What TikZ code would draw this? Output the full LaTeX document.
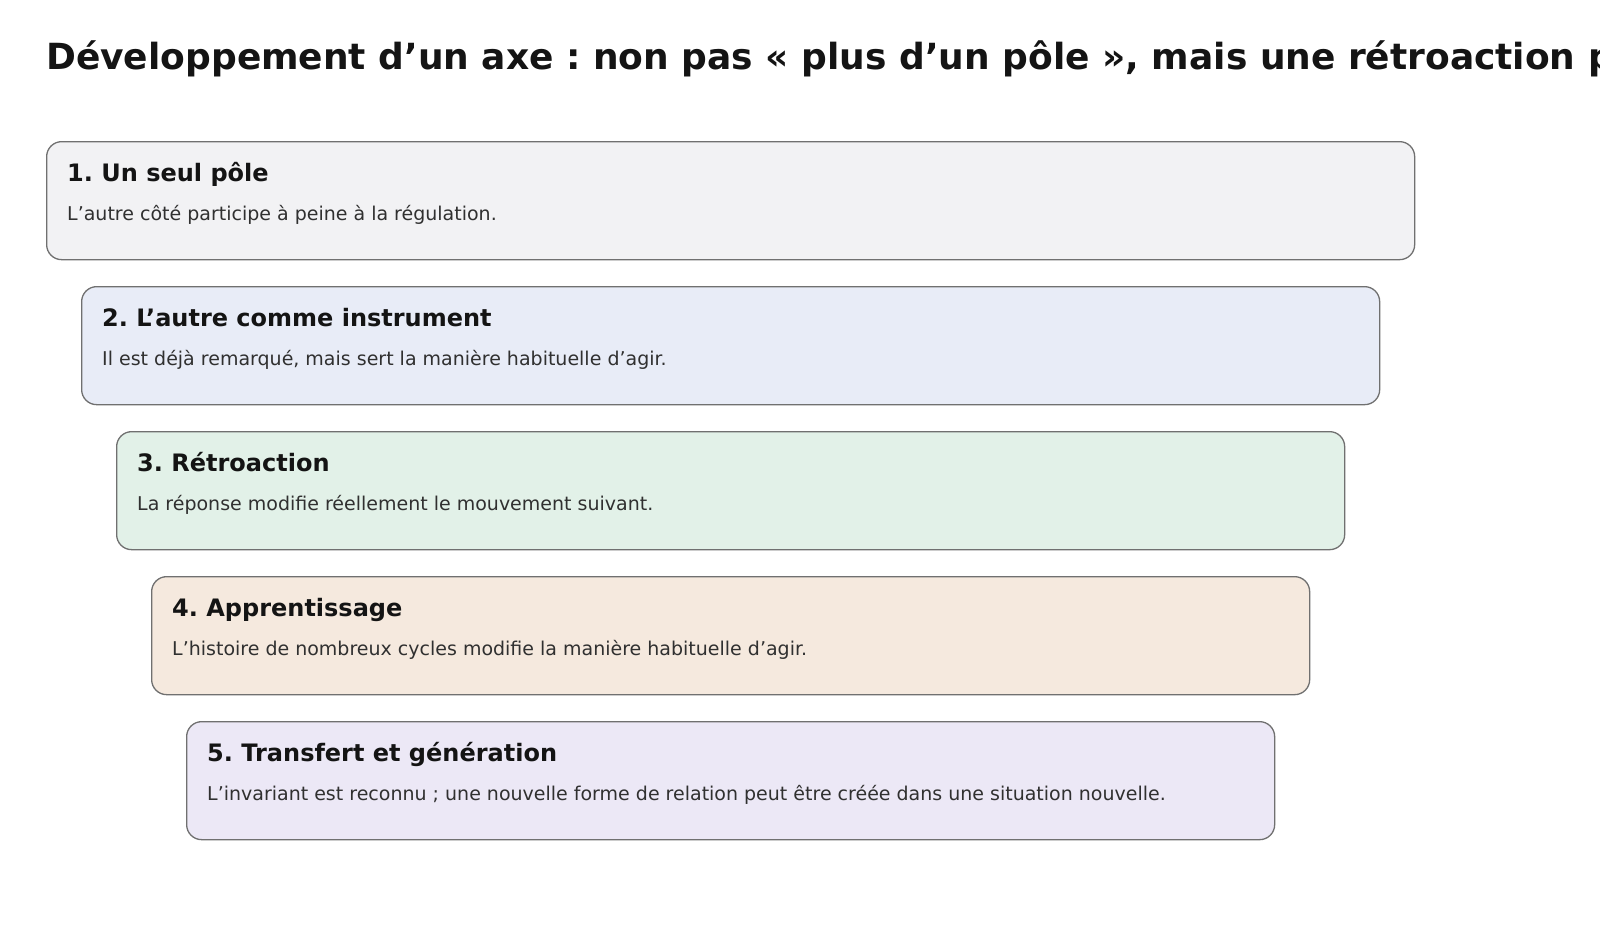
\documentclass[tikz,border=0pt]{standalone}
\usepackage{fontspec}
\setmainfont{DejaVu Sans}
\frenchspacing
\definecolor{ink}{HTML}{141414}
\definecolor{descink}{HTML}{303030}
\definecolor{edge}{HTML}{707070}
\definecolor{fillA}{HTML}{F2F2F4}
\definecolor{fillB}{HTML}{E8ECF7}
\definecolor{fillC}{HTML}{E2F1E8}
\definecolor{fillD}{HTML}{F5E9DE}
\definecolor{fillE}{HTML}{ECE8F6}
\tikzset{
  stagebox/.style={draw=edge, line width=1.3pt, rounded corners=15pt, rectangle, anchor=north west, inner sep=0pt, minimum height=118pt},
  stagetitle/.style={anchor=base west, inner sep=0pt, text=ink, font=\fontsize{24}{28}\selectfont\bfseries},
  stagedesc/.style={anchor=base west, inner sep=0pt, text=descink, font=\fontsize{19}{23}\selectfont},
  headline/.style={anchor=base west, inner sep=0pt, text=ink, font=\fontsize{36}{42}\selectfont\bfseries}
}
\begin{document}
\begin{tikzpicture}[x=1pt,y=-1pt]
\useasboundingbox[fill=white] (0,0) rectangle (1600,950);
\node[headline] (title) at (46,70) {Développement d’un axe : non pas « plus d’un pôle », mais une rétroaction partagée};

\node[stagebox, fill=fillA, minimum width=1368pt] (b1) at (46,141) {};
\node[stagebox, fill=fillB, minimum width=1298pt] (b2) at (81,286) {};
\node[stagebox, fill=fillC, minimum width=1228pt] (b3) at (116,431) {};
\node[stagebox, fill=fillD, minimum width=1158pt] (b4) at (151,576) {};
\node[stagebox, fill=fillE, minimum width=1088pt] (b5) at (186,721) {};

\node[stagetitle] (t1) at ([xshift=21pt,yshift=-40pt]b1.north west) {1. Un seul pôle};
\node[stagedesc] (d1) at ([xshift=21pt,yshift=-79pt]b1.north west) {L’autre côté participe à peine à la régulation.};

\node[stagetitle] (t2) at ([xshift=21pt,yshift=-40pt]b2.north west) {2. L’autre comme instrument};
\node[stagedesc] (d2) at ([xshift=21pt,yshift=-79pt]b2.north west) {Il est déjà remarqué, mais sert la manière habituelle d’agir.};

\node[stagetitle] (t3) at ([xshift=21pt,yshift=-40pt]b3.north west) {3. Rétroaction};
\node[stagedesc] (d3) at ([xshift=21pt,yshift=-79pt]b3.north west) {La réponse modifie réellement le mouvement suivant.};

\node[stagetitle] (t4) at ([xshift=21pt,yshift=-40pt]b4.north west) {4. Apprentissage};
\node[stagedesc] (d4) at ([xshift=21pt,yshift=-79pt]b4.north west) {L’histoire de nombreux cycles modifie la manière habituelle d’agir.};

\node[stagetitle] (t5) at ([xshift=21pt,yshift=-40pt]b5.north west) {5. Transfert et génération};
\node[stagedesc] (d5) at ([xshift=21pt,yshift=-79pt]b5.north west) {L’invariant est reconnu ; une nouvelle forme de relation peut être créée dans une situation nouvelle.};
\end{tikzpicture}
\end{document}
